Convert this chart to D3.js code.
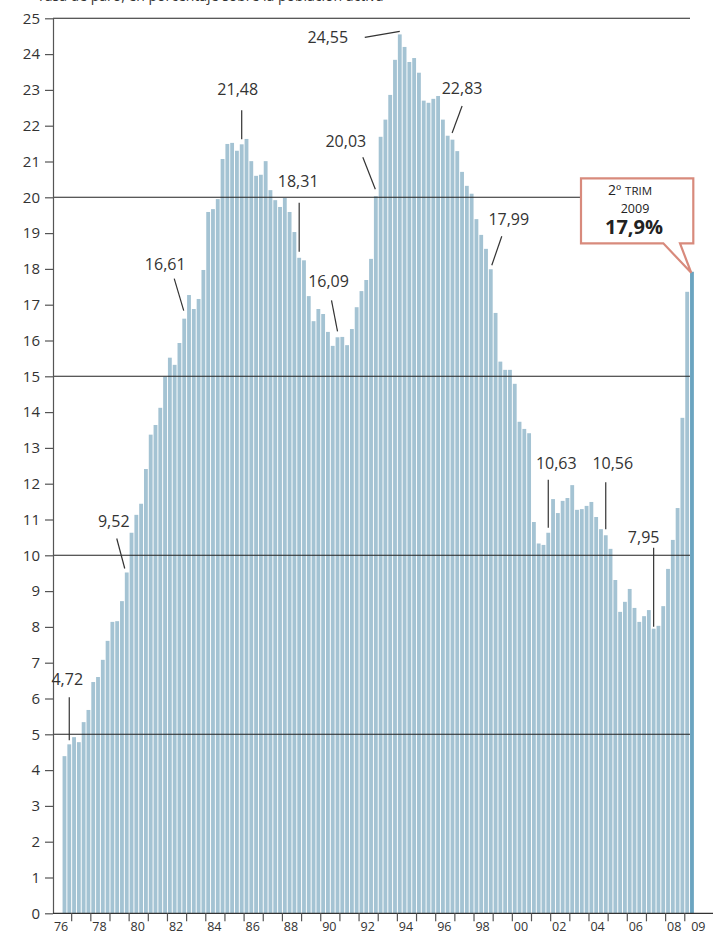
<!DOCTYPE html>
<html>
<head>
<meta charset="utf-8">
<script src="https://cdn.jsdelivr.net/npm/d3@7"></script>
<style>
  body { margin: 0; background: #fff; }
  svg { display: block; font-family: "Open Sans", sans-serif; }
</style>
</head>
<body>
<div class="chart"></div>
<script>
// Tasa de paro trimestral (EPA), del 3er trimestre de 1976 al 2º de 2009
const years = [1976, 1977, 1978, 1979, 1980, 1981, 1982, 1983, 1984, 1985, 1986, 1987,
  1988, 1989, 1990, 1991, 1992, 1993, 1994, 1995, 1996, 1997, 1998, 1999, 2000, 2001,
  2002, 2003, 2004, 2005, 2006, 2007, 2008, 2009];
const firstKey = '1976-3';

const paro1970s = [4.39, 4.72,
  4.92, 4.78, 5.34, 5.68,
  6.46, 6.60, 7.08, 7.61,
  8.14, 8.16, 8.72, 9.52];
const paro1980s = [10.63, 11.13, 11.44, 12.41,
  13.37, 13.64, 14.12, 14.99,
  15.52, 15.32, 15.93, 16.61,
  17.27, 16.88, 17.16, 17.97,
  19.59, 19.67, 19.95, 21.07,
  21.49, 21.52, 21.30, 21.48,
  21.63, 21.01, 20.60, 20.63,
  21.01, 20.20, 19.92, 19.73,
  19.98, 19.59, 19.03, 18.31,
  18.24, 17.24, 16.54, 16.88];
const paro1990s = [16.74, 16.24, 15.85, 16.09,
  16.10, 15.87, 16.32, 16.93,
  17.38, 17.69, 18.28, 20.03,
  21.69, 22.17, 22.86, 23.84,
  24.55, 24.20, 23.78, 23.89,
  23.48, 22.70, 22.64, 22.75,
  22.83, 22.17, 21.72, 21.61,
  21.29, 20.71, 20.32, 20.10,
  19.39, 18.95, 18.56, 17.99,
  16.77, 15.41, 15.18, 15.18];
const paro2000s = [14.79, 13.73, 13.53, 13.41,
  10.93, 10.33, 10.29, 10.63,
  11.57, 11.18, 11.52, 11.60,
  11.96, 11.27, 11.29, 11.38,
  11.49, 11.07, 10.73, 10.56,
  10.18, 9.31, 8.42, 8.70,
  9.06, 8.53, 8.14, 8.30,
  8.47, 7.95, 8.03, 8.58,
  9.62, 10.43, 11.32, 13.84,
  17.36, 17.92];

const yTicks = [0, 1, 2, 3, 4, 5, 6, 7, 8, 9, 10, 11, 12, 13, 14, 15, 16, 17, 18, 19, 20, 21, 22, 23, 24, 25];
const gridValues = [5, 10, 15, 20, 25];
const xLabelYears = [1976, 1978, 1980, 1982, 1984, 1986, 1988, 1990, 1992, 1994, 1996,
  1998, 2000, 2002, 2004, 2006, 2008, 2009];

// etiquetas destacadas: trimestre, texto y posición relativa a la barra
const notas = [
  {key: '1976-4', text: '4,72',  tx: -2,  ty: -59, x1: 0,   y1: -47, x2: 0,    y2: -4},
  {key: '1979-4', text: '9,52',  tx: -13, ty: -45, x1: -10, y1: -34, x2: -2,   y2: -4},
  {key: '1982-4', text: '16,61', tx: -19, ty: -49, x1: -10, y1: -40, x2: -0.5, y2: -8},
  {key: '1985-4', text: '21,48', tx: -4,  ty: -49, x1: 0,   y1: -34, x2: 0,    y2: -5},
  {key: '1988-4', text: '18,31', tx: -1,  ty: -71, x1: 0,   y1: -55, x2: 0,    y2: -6},
  {key: '1990-4', text: '16,09', tx: -9,  ty: -50, x1: -6,  y1: -37, x2: 0,    y2: -6},
  {key: '1992-4', text: '20,03', tx: -30, ty: -49, x1: -13, y1: -39, x2: -0.5, y2: -7},
  {key: '1994-1', text: '24,55', tx: -72, ty: 9,   x1: -35, y1: 3,   x2: 0,    y2: -3},
  {key: '1996-1', text: '22,83', tx: 24,  ty: -2,  x1: 24,  y1: 10,  x2: 14,   y2: 37},
  {key: '1998-4', text: '17,99', tx: 18,  ty: -44, x1: 11,  y1: -33, x2: 1,    y2: -4},
  {key: '2001-4', text: '10,63', tx: 8,   ty: -64, x1: 0,   y1: -53, x2: 0,    y2: -5},
  {key: '2004-4', text: '10,56', tx: 7,   ty: -66, x1: 0,   y1: -53, x2: 0,    y2: -6},
  {key: '2007-2', text: '7,95',  tx: -10, ty: -86, x1: 0,   y1: -81, x2: 0,    y2: -2}
];

/******************** escalas ********************/
const W = 726, H = 933;
const keys = [];
years.forEach(yr => [1, 2, 3, 4].forEach(q => keys.push(`${yr}-${q}`)));
const values = [...paro1970s, ...paro1980s, ...paro1990s, ...paro2000s];
const start = keys.indexOf(firstKey);
const data = values.map((v, i) => ({key: keys[start + i], value: v}));
const byKey = new Map(data.map(d => [d.key, d.value]));
const lastKey = data[data.length - 1].key;

const x = d3.scaleBand(keys, [52.5, 52.5 + keys.length * 4.79]).paddingInner(0.2).paddingOuter(0.1);
const y = d3.scaleLinear([0, 25], [913.3, 18.3]);
const gap = (x.step() - x.bandwidth()) / 2;

const svg = d3.select('.chart').append('svg')
  .attr('width', W)
  .attr('height', H);

// título (cortado arriba en el original)
svg.append('text')
  .attr('x', 37).attr('y', 1)
  .attr('font-size', 14).attr('fill', '#333')
  .text('Tasa de paro, en porcentaje sobre la población activa');

/******************** barras ********************/
svg.append('g')
  .selectAll('rect')
  .data(data)
  .join('rect')
    .attr('x', d => x(d.key))
    .attr('y', d => y(d.value))
    .attr('width', x.bandwidth())
    .attr('height', d => y(0) - y(d.value))
    .attr('fill', d => d.key === lastKey ? '#6ba4c0' : '#a4c3d3');

/******************** líneas de referencia ********************/
svg.append('g')
  .selectAll('line')
  .data(gridValues)
  .join('line')
    .attr('x1', 53).attr('x2', 690)
    .attr('y1', d => y(d)).attr('y2', d => y(d))
    .attr('stroke', '#222')
    .attr('stroke-width', 1.1);

/******************** eje y ********************/
svg.append('g')
  .attr('transform', 'translate(53,0)')
  .call(d3.axisLeft(y).tickValues(yTicks).tickSize(8).tickSizeOuter(0).tickPadding(5))
  .call(g => g.select('.domain').attr('stroke', '#555').attr('stroke-width', 1.2))
  .call(g => g.selectAll('.tick line').attr('stroke', '#555').attr('stroke-width', 1.2))
  .call(g => g.selectAll('.tick text')
    .attr('font-size', 15).attr('fill', '#333')
    .attr('font-family', '"Open Sans", sans-serif'));

/******************** eje x ********************/
const xAxis = svg.append('g');
xAxis.append('line')
  .attr('x1', 53).attr('x2', 713)
  .attr('y1', y(0)).attr('y2', y(0))
  .attr('stroke', '#333').attr('stroke-width', 1.2);
xAxis.selectAll('line.tick')
  .data(years.slice(1))
  .join('line')
    .attr('class', 'tick')
    .attr('x1', d => x(`${d}-1`) - gap).attr('x2', d => x(`${d}-1`) - gap)
    .attr('y1', y(0)).attr('y2', y(0) + 8)
    .attr('stroke', '#555').attr('stroke-width', 1.2);
xAxis.selectAll('text')
  .data(xLabelYears)
  .join('text')
    .attr('x', d => x(`${d}-1`) - gap + 2 * x.step() + (d === 2009 ? 4 : -1))
    .attr('y', 930.5)
    .attr('text-anchor', 'middle')
    .attr('font-size', 12.5).attr('fill', '#333')
    .text(d => String(d).slice(2));

/******************** etiquetas de valores ********************/
const notaG = svg.append('g').selectAll('g')
  .data(notas)
  .join('g')
    .attr('transform', d => `translate(${x(d.key) + x.bandwidth() / 2},${y(byKey.get(d.key))})`);
notaG.append('line')
  .attr('x1', d => d.x1).attr('y1', d => d.y1)
  .attr('x2', d => d.x2).attr('y2', d => d.y2)
  .attr('stroke', '#333').attr('stroke-width', 1.2);
notaG.append('text')
  .attr('x', d => d.tx).attr('y', d => d.ty)
  .attr('text-anchor', 'middle')
  .attr('font-size', 16).attr('fill', '#333')
  .text(d => d.text);

/******************** recuadro último dato ********************/
const tipX = x(lastKey) + x.bandwidth() * 0.3;
const tipY = y(byKey.get(lastKey)) + 1;
const bx0 = 581, bx1 = 693.3, by0 = 178.3, by1 = 243.3;
svg.append('path')
  .attr('d', `M${bx0},${by0}H${bx1}V${by1}H680L${tipX},${tipY}L663.3,${by1}H${bx0}Z`)
  .attr('fill', '#fff')
  .attr('stroke', '#d88a7c')
  .attr('stroke-width', 2.2)
  .attr('stroke-linejoin', 'miter');

const box = svg.append('text')
  .attr('text-anchor', 'middle')
  .attr('fill', '#222');
const l1 = box.append('tspan').attr('x', 630).attr('y', 195);
l1.append('tspan').attr('font-size', 14).text('2º');
l1.append('tspan').attr('font-size', 11.5).attr('dx', 4).text('TRIM');
box.append('tspan').attr('x', 635).attr('y', 213.3).attr('font-size', 12.5).text('2009');
box.append('tspan').attr('x', 634).attr('y', 234.3)
  .attr('font-size', 20).attr('font-weight', 'bold').text('17,9%');
</script>
</body>
</html>
